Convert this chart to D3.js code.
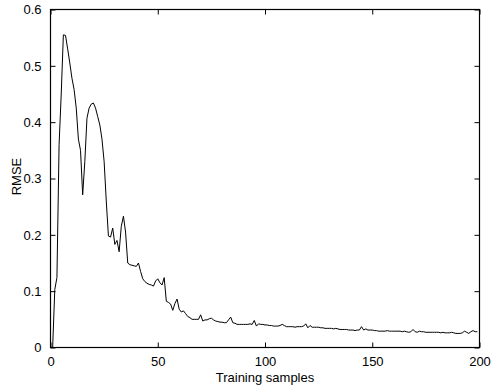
<!DOCTYPE html>
<html><head><meta charset="utf-8">
<script src="https://cdn.jsdelivr.net/npm/d3@7"></script>
<style>body{margin:0;background:#fff}svg{display:block}text{font-family:"Liberation Sans",Arial,sans-serif}</style>
</head><body><svg id="c" width="491" height="390"></svg>
<script>
const xTicks = [0, 50, 100, 150, 200];
const yTicks = [0, 0.1, 0.2, 0.3, 0.4, 0.5, 0.6];
const xLabel = "Training samples";
const yLabel = "RMSE";
const rmse = [
0.0,0.103,0.124,0.36,0.45,0.555,0.554,0.53,0.505,0.478,
0.458,0.425,0.37,0.35,0.271,0.33,0.407,0.425,0.432,0.434,
0.425,0.41,0.395,0.37,0.33,0.26,0.198,0.196,0.212,0.183,
0.19,0.17,0.215,0.233,0.205,0.15,0.147,0.146,0.145,0.144,
0.15,0.135,0.122,0.117,0.114,0.112,0.111,0.109,0.118,0.122,
0.115,0.111,0.124,0.082,0.08,0.077,0.066,0.078,0.086,0.068,
0.063,0.065,0.06,0.055,0.053,0.05,0.05,0.05,0.05,0.058,
0.047,0.049,0.049,0.051,0.052,0.049,0.047,0.046,0.045,0.045,
0.044,0.044,0.049,0.054,0.044,0.043,0.041,0.041,0.041,0.041,
0.041,0.041,0.042,0.041,0.048,0.038,0.042,0.041,0.041,0.040,
0.040,0.039,0.039,0.038,0.038,0.038,0.039,0.041,0.039,0.037,
0.037,0.037,0.037,0.036,0.037,0.037,0.037,0.038,0.042,0.035,
0.039,0.036,0.036,0.036,0.036,0.035,0.035,0.034,0.034,0.034,
0.034,0.033,0.034,0.033,0.032,0.032,0.032,0.032,0.031,0.031,
0.031,0.030,0.031,0.031,0.037,0.031,0.033,0.031,0.031,0.031,
0.030,0.030,0.029,0.029,0.029,0.029,0.030,0.029,0.029,0.029,
0.029,0.029,0.029,0.028,0.029,0.028,0.027,0.028,0.032,0.028,
0.027,0.029,0.028,0.028,0.027,0.027,0.027,0.027,0.027,0.027,
0.027,0.026,0.027,0.026,0.026,0.026,0.027,0.026,0.025,0.025,
0.025,0.026,0.029,0.027,0.025,0.028,0.030,0.028,0.028
];
const samples = rmse.map((d, i) => i + 1);

const L = 50.5, R = 479.5, T = 9.5, B = 347.5;
const svg = d3.select("#c");
const x = d3.scaleLinear().domain([0, 200]).range([L, R]);
const y = d3.scaleLinear().domain([0, 0.6]).range([B, T]);
const fmtY = d => d === 0 ? "0" : d3.format(".1f")(d);

const tl = 5;
const ax = (gen, tx, ty) => {
  const g = svg.append("g").attr("transform", `translate(${tx},${ty})`).call(gen);
  g.select(".domain").remove();
  g.selectAll("line").attr("stroke", "#000");
  g.selectAll("text").attr("fill", "#000").style("font-size", "13px");
  return g;
};
ax(d3.axisBottom(x).tickValues(xTicks).tickSize(-tl).tickPadding(9).tickFormat(d3.format("d")), 0, B);
ax(d3.axisTop(x).tickValues(xTicks).tickSize(-tl).tickFormat(""), 0, T);
ax(d3.axisLeft(y).tickValues(yTicks).tickSize(-tl).tickPadding(9).tickFormat(fmtY), L, 0);
ax(d3.axisRight(y).tickValues(yTicks).tickSize(-tl).tickFormat(""), R, 0);

svg.append("rect").attr("x", L).attr("y", T).attr("width", R - L).attr("height", B - T)
  .attr("fill", "none").attr("stroke", "#000").attr("stroke-width", 1.2);

const line = d3.line().x((d, i) => x(samples[i])).y(d => y(d));
svg.append("path").datum(rmse).attr("d", line).attr("fill", "none")
  .attr("stroke", "#000").attr("stroke-width", 1).attr("stroke-linejoin", "round");

svg.append("text").attr("x", (L + R) / 2).attr("y", 382).attr("text-anchor", "middle")
  .style("font-size", "13px").text(xLabel);
svg.append("text").attr("transform", `translate(21,${(T + B) / 2 - 2}) rotate(-90)`)
  .attr("text-anchor", "middle").style("font-size", "13px").text(yLabel);
</script></body></html>
